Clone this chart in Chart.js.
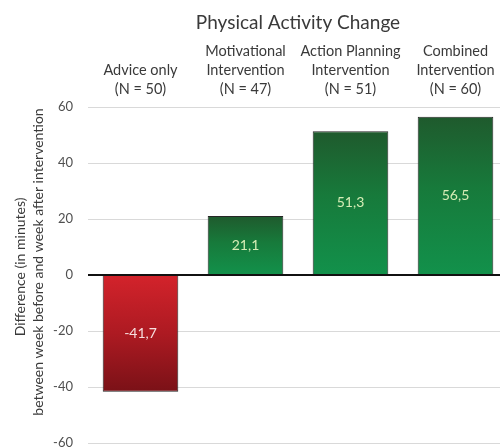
<!DOCTYPE html>
<html>
<head>
<meta charset="utf-8">
<script src="https://cdn.jsdelivr.net/npm/chart.js@4/dist/chart.umd.min.js"></script>
<style>
  html, body { margin: 0; padding: 0; background: #fff; overflow: hidden; }
  #wrap { width: 508px; height: 448px; }
</style>
</head>
<body>
<div id="wrap"><canvas id="chart" width="508" height="448"></canvas></div>
<script>
// Study groups (multi-line category labels) and mean change in minutes
const groupLabels = [
  ["Advice only", "(N = 50)"],
  ["Motivational", "Intervention", "(N = 47)"],
  ["Action Planning", "Intervention", "(N = 51)"],
  ["Combined", "Intervention", "(N = 60)"]
];
const changeMinutes = [-41.7, 21.1, 51.3, 56.5];
const yTickValues = [-60, -40, -20, 0, 20, 40, 60];
const chartTitle = "Physical Activity Change";
const yAxisTitle = ["Difference (in minutes)", "between week before and week after intervention"];

const FONT = "Lato, 'Open Sans', sans-serif";

// Vertical gradient spanning each bar, red for losses and green for gains
function barFill(context) {
  const chart = context.chart;
  const yScale = chart.scales.y;
  if (!yScale || !chart.chartArea) return '#1a7a3a';
  const v = context.raw;
  const p0 = yScale.getPixelForValue(0);
  const p1 = yScale.getPixelForValue(v);
  const top = Math.min(p0, p1), bottom = Math.max(p0, p1);
  const g = chart.ctx.createLinearGradient(0, top, 0, bottom || top + 1);
  if (v < 0) {
    g.addColorStop(0, '#d3232b');
    g.addColorStop(0.5, '#ad1a22');
    g.addColorStop(1, '#7a1117');
  } else {
    g.addColorStop(0, '#1f5a2d');
    g.addColorStop(0.45, '#177a3b');
    g.addColorStop(1, '#12914b');
  }
  return g;
}

// Value written at the middle of each bar, with a decimal comma
const valueLabels = {
  id: 'valueLabels',
  afterDatasetsDraw(chart) {
    const ctx = chart.ctx;
    const meta = chart.getDatasetMeta(0);
    ctx.save();
    ctx.font = "14px " + FONT;
    ctx.textAlign = 'center';
    ctx.textBaseline = 'middle';
    meta.data.forEach((bar, i) => {
      const v = changeMinutes[i];
      ctx.fillStyle = v < 0 ? '#f7dede' : '#d6edb6';
      ctx.fillText(v.toFixed(1).replace('.', ','), bar.x, (bar.y + bar.base) / 2);
    });
    ctx.restore();
  }
};

// Black zero line drawn over the bars, plus the two-line rotated y title
const axisExtras = {
  id: 'axisExtras',
  afterDatasetsDraw(chart) {
    const ctx = chart.ctx;
    const area = chart.chartArea;
    const y0 = Math.round(chart.scales.y.getPixelForValue(0));
    ctx.save();
    ctx.strokeStyle = '#111';
    ctx.lineWidth = 2;
    ctx.beginPath();
    ctx.moveTo(area.left, y0);
    ctx.lineTo(area.right, y0);
    ctx.stroke();
    ctx.restore();

    const lineX = [20, 38];
    const lineMid = [267, 262];
    ctx.save();
    ctx.font = "14px " + FONT;
    ctx.fillStyle = '#3a3a3a';
    ctx.textAlign = 'center';
    ctx.textBaseline = 'middle';
    yAxisTitle.forEach((line, i) => {
      ctx.save();
      ctx.translate(lineX[i], lineMid[i]);
      ctx.rotate(-Math.PI / 2);
      ctx.fillText(line, 0, 0);
      ctx.restore();
    });
    ctx.restore();
  }
};

new Chart(document.getElementById('chart'), {
  type: 'bar',
  data: {
    labels: groupLabels,
    datasets: [{
      data: changeMinutes,
      backgroundColor: barFill,
      borderColor: '#262626',
      borderWidth: 1,
      barPercentage: 0.72,
      categoryPercentage: 1.0
    }]
  },
  options: {
    responsive: false,
    animation: false,
    devicePixelRatio: 1,
    layout: { padding: { top: 0, right: 0, bottom: 5, left: 0 } },
    plugins: {
      legend: { display: false },
      tooltip: { enabled: false },
      title: { display: false }
    },
    scales: {
      x: {
        position: 'top',
        grid: { display: false, drawTicks: false },
        border: { display: false },
        ticks: {
          color: '#3a3a3a',
          font: { family: FONT, size: 14.5, lineHeight: 1.31 },
          padding: 8,
          maxRotation: 0,
          autoSkip: false
        },
        title: {
          display: true,
          text: chartTitle,
          color: '#3a3a3a',
          font: { family: FONT, size: 19, lineHeight: 1.2 },
          padding: { top: 11, bottom: 0 }
        },
        afterFit(scale) {
          scale.height = 107;
          scale.paddingLeft = 0;
          scale.paddingRight = 0;
        }
      },
      y: {
        min: -60,
        max: 60,
        afterBuildTicks(scale) {
          scale.ticks = yTickValues.map(v => ({ value: v }));
        },
        grid: {
          color: '#d9d9d9',
          lineWidth: 1,
          drawTicks: false
        },
        border: { display: false },
        ticks: {
          color: '#505050',
          font: { family: FONT, size: 13 },
          padding: 15
        },
        afterFit(scale) {
          scale.width = 88;
          scale.paddingTop = 0;
          scale.paddingBottom = 0;
        }
      }
    }
  },
  plugins: [valueLabels, axisExtras]
});
</script>
</body>
</html>
